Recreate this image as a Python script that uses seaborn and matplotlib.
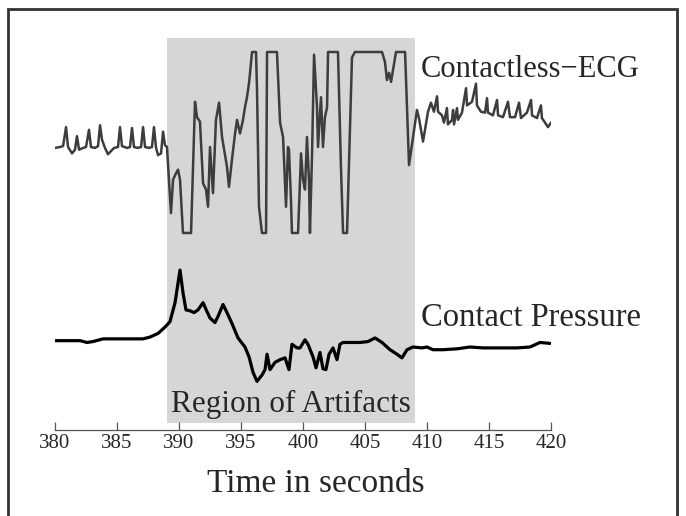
import numpy as np
import pandas as pd
import matplotlib
matplotlib.use("Agg")
import matplotlib.pyplot as plt
import matplotlib.patches as patches
import seaborn as sns

# Contactless ECG (normalised, amplifier saturates at +/-1)
ecg_time = [
    380.00, 380.40, 380.65, 380.89, 381.05, 381.37, 381.61, 381.77, 381.94, 382.26,
    382.50, 382.74, 382.90, 383.23, 383.47, 383.63, 383.79, 384.03, 384.27, 384.76,
    385.08, 385.24, 385.40, 385.81, 386.05, 386.21, 386.37, 386.69, 386.94, 387.10,
    387.26, 387.58, 387.82, 387.98, 388.15, 388.31, 388.55, 388.71, 388.87, 389.03,
    389.35, 389.52, 389.76, 389.92, 390.08, 390.32, 390.97, 391.29, 391.45, 391.69,
    391.94, 392.18, 392.34, 392.50, 392.74, 392.98, 393.23, 393.47, 393.87, 394.03,
    394.27, 394.52, 394.68, 394.92, 395.16, 395.32, 395.48, 395.65, 395.89, 396.21,
    396.29, 396.45, 396.69, 397.02, 397.10, 397.90, 398.15, 398.39, 398.63, 398.79,
    398.87, 399.03, 399.11, 399.60, 399.84, 400.00, 400.16, 400.32, 400.48, 400.56,
    400.73, 400.89, 401.13, 401.21, 401.45, 401.61, 401.77, 401.94, 402.02, 402.82,
    402.98, 403.06, 403.23, 403.55, 403.95, 404.19, 406.37, 406.61, 406.77, 406.94,
    407.10, 407.26, 407.50, 408.23, 408.39, 408.55, 409.19, 409.35, 409.68, 410.08,
    410.32, 410.56, 410.81, 410.89, 411.21, 411.37, 411.61, 411.69, 412.02, 412.10,
    412.18, 412.42, 412.50, 412.82, 413.15, 413.23, 413.63, 413.95, 414.03, 414.35,
    414.68, 414.84, 414.92, 415.32, 415.65, 415.73, 416.13, 416.53, 416.69, 417.10,
    417.42, 417.58, 418.06, 418.39, 418.47, 418.87, 419.19, 419.27, 419.52, 419.76,
    420.00,
]
ecg_value = [
    -0.06, -0.05, -0.04, 0.17, -0.05, -0.12, -0.08, 0.07, -0.08, -0.06,
    -0.05, 0.14, -0.05, -0.06, -0.04, 0.19, 0.03, -0.06, -0.13, -0.06,
    -0.05, 0.17, -0.04, -0.06, -0.05, 0.16, -0.05, -0.06, -0.05, 0.17,
    -0.05, -0.06, -0.05, 0.17, -0.06, -0.14, -0.12, 0.12, -0.03, -0.05,
    -0.78, -0.41, -0.34, -0.30, -0.41, -1.00, -1.00, 0.45, 0.28, 0.23,
    -0.45, -0.52, -0.71, -0.05, -0.56, 0.25, 0.44, 0.06, -0.27, -0.49,
    -0.19, 0.10, 0.25, 0.10, 0.25, 0.39, 0.50, 0.66, 1.00, 1.00,
    0.58, -0.71, -1.00, -1.00, 1.00, 1.00, 0.22, 0.06, -0.71, -0.05,
    -0.08, -0.64, -1.00, -1.00, -0.12, -0.41, -0.52, 0.06, -0.41, -1.00,
    -0.12, 0.97, 0.39, -0.05, 0.50, -0.05, 0.28, 0.39, 1.00, 1.00,
    0.17, -0.27, -1.00, -1.00, 0.94, 1.00, 1.00, 0.89, 0.69, 0.77,
    0.67, 0.80, 1.00, 1.00, 0.36, -0.25, 0.36, 0.27, 0.01, 0.34,
    0.44, 0.34, 0.51, 0.34, 0.30, 0.22, 0.38, 0.20, 0.25, 0.36,
    0.20, 0.38, 0.25, 0.33, 0.60, 0.41, 0.45, 0.65, 0.41, 0.34,
    0.33, 0.49, 0.33, 0.30, 0.47, 0.30, 0.28, 0.45, 0.28, 0.28,
    0.44, 0.27, 0.33, 0.47, 0.30, 0.27, 0.41, 0.27, 0.22, 0.17,
    0.22,
]

# Contact pressure (same scale, relative to resting level)
pressure_time = [
    380.00, 381.21, 382.02, 382.58, 383.06, 383.87, 385.00, 386.05, 387.10, 387.66,
    388.31, 388.87, 389.27, 389.68, 390.08, 390.32, 390.56, 390.89, 391.21, 391.53,
    391.94, 392.26, 392.50, 392.90, 393.15, 393.55, 393.87, 394.27, 394.76, 395.32,
    395.65, 395.97, 396.29, 396.69, 396.94, 397.10, 397.34, 397.74, 398.15, 398.55,
    398.87, 399.11, 399.52, 399.76, 400.16, 400.40, 400.81, 401.05, 401.37, 401.61,
    401.85, 402.10, 402.42, 402.74, 402.98, 403.23, 403.79, 404.60, 405.24, 405.81,
    406.37, 407.02, 407.58, 407.98, 408.39, 408.87, 409.60, 410.00, 410.48, 411.29,
    412.42, 413.47, 414.52, 415.65, 417.26, 418.31, 419.11, 419.92,
]
pressure_value = [
    0.00, 0.00, 0.00, -0.02, -0.01, 0.02, 0.02, 0.02, 0.02, 0.04,
    0.08, 0.15, 0.21, 0.42, 0.78, 0.53, 0.34, 0.33, 0.31, 0.34,
    0.42, 0.32, 0.25, 0.20, 0.27, 0.40, 0.31, 0.19, 0.03, -0.07,
    -0.18, -0.35, -0.45, -0.38, -0.32, -0.15, -0.32, -0.24, -0.21, -0.19,
    -0.32, -0.04, -0.08, -0.08, 0.01, -0.04, -0.18, -0.30, -0.13, -0.31,
    -0.32, -0.15, -0.08, -0.21, -0.04, -0.02, -0.02, -0.02, -0.01, 0.03,
    -0.02, -0.10, -0.15, -0.19, -0.10, -0.07, -0.08, -0.07, -0.10, -0.10,
    -0.09, -0.07, -0.08, -0.08, -0.08, -0.07, -0.02, -0.03,
]

artifact_start = 389.0
artifact_end = 409.0
x_ticks = [380, 385, 390, 395, 400, 405, 410, 415, 420]
pressure_offset = -2.19

sns.set_style("white")
plt.rcParams['font.family'] = ['Liberation Serif', 'DejaVu Serif']

ecg_df = pd.DataFrame({"time": ecg_time, "value": ecg_value})
pres_df = pd.DataFrame({"time": pressure_time,
                        "value": np.array(pressure_value) + pressure_offset})

fig = plt.figure(figsize=(6.86, 5.16), dpi=100)
ax = fig.add_axes([0.0802, 0.1667, 0.7230, 0.7597])

# shaded artifact region
ax.axvspan(artifact_start, artifact_end, ymin=0.018, ymax=1.0,
           color="#d6d6d6", lw=0, zorder=0)

sns.lineplot(data=ecg_df, x="time", y="value", ax=ax, color="#3d3d3d",
             lw=1.8, estimator=None, sort=False)
sns.lineplot(data=pres_df, x="time", y="value", ax=ax, color="black",
             lw=2.3, estimator=None, sort=False)

ax.set_xlim(380, 420)
ax.set_ylim(-3.177, 1.155)
ax.set_xticks(x_ticks)
ax.set_yticks([])
ax.set_xlabel("")
ax.set_ylabel("")
for s in ["left", "top", "right"]:
    ax.spines[s].set_visible(False)
ax.spines["bottom"].set_color("#555555")
ax.spines["bottom"].set_linewidth(0.9)
ax.tick_params(axis="x", direction="in", length=6, width=0.9, color="#555555",
               labelsize=15, pad=3, bottom=True)
ax.patch.set_alpha(0)

ax.text(409.5, 0.72, "Contactless\u2212ECG", fontsize=22, ha="left", va="baseline")
ax.text(409.5, -2.03, "Contact Pressure", fontsize=23.5, ha="left", va="baseline")
ax.text(399.0, -2.98, "Region of Artifacts", fontsize=22.5, ha="center", va="baseline")

fig.text(316 / 686, 0.0465, "Time in seconds", fontsize=24, ha="center", va="baseline")

# frame around the figure (open at the bottom edge)
frame = patches.Rectangle((8 / 686, -0.05), 669 / 686, (516 - 9) / 516 + 0.05,
                          transform=fig.transFigure, fill=False,
                          edgecolor="#333333", lw=2, clip_on=False)
fig.add_artist(frame)

fig.savefig("out.png", dpi=100)
